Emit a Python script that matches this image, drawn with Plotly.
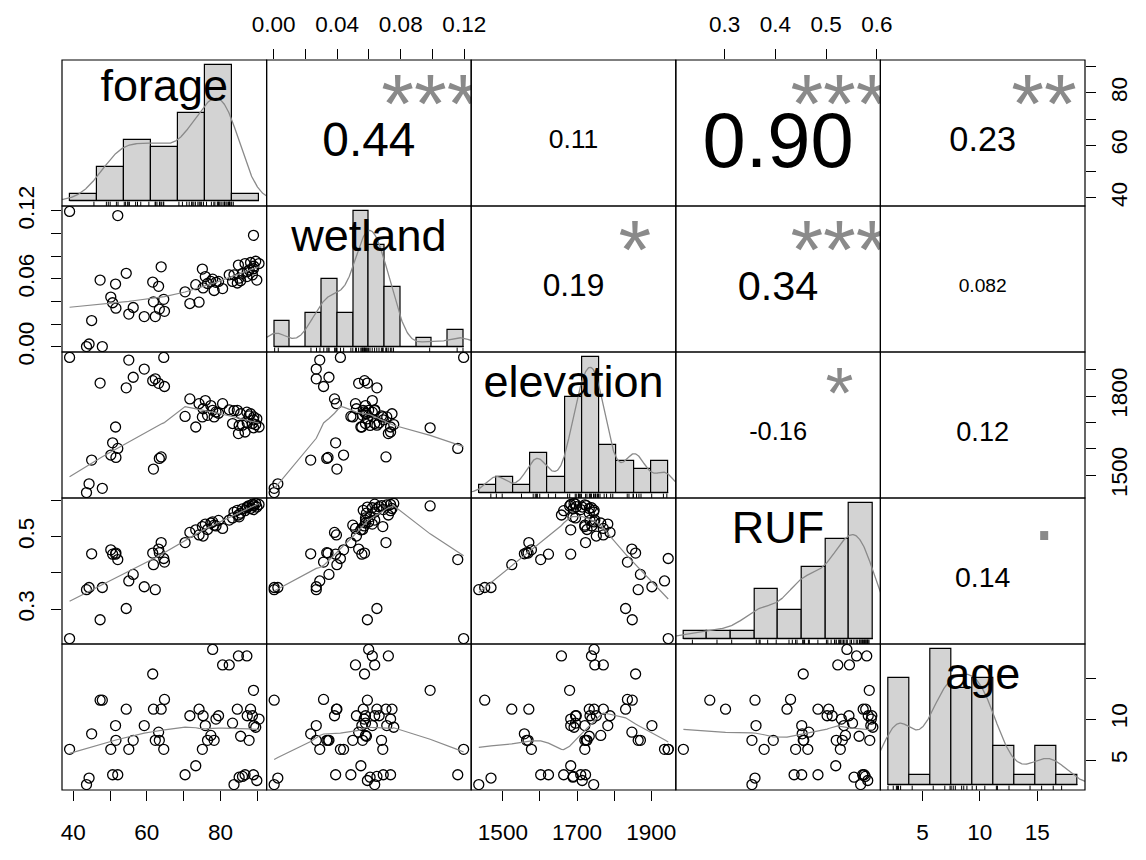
import numpy as np
import plotly.graph_objects as go

# ---------------------------------------------------------------------------
# Data: one entry per site
# ---------------------------------------------------------------------------
var_names = ["forage", "wetland", "elevation", "RUF", "age"]

forage = [39.0, 43.6, 44.3, 45.0, 47.3, 47.9, 50.2, 50.7, 51.5, 51.6, 52.1,
          54.4, 55.1, 56.3, 59.3, 61.6, 61.8, 62.3, 63.2, 63.4, 63.9, 64.6,
          64.8, 70.4, 71.7, 73.3, 74.2, 75.1, 75.3, 75.9, 76.5, 77.4, 77.9,
          78.3, 78.8, 79.5, 80.6, 82.4, 83.3, 83.7, 84.6, 84.9, 85.1, 85.5,
          86.0, 86.7, 87.2, 87.3, 87.8, 88.2, 88.7, 89.0, 89.0, 89.1, 89.6,
          89.9, 90.5]

wetland = [0.1196, 0.0003, 0.0026, 0.0233, 0.0590, 0.0003, 0.0440, 0.0390,
           0.0555, 0.0342, 0.1159, 0.0650, 0.0290, 0.0348, 0.0268, 0.0572,
           0.0398, 0.0268, 0.0535, 0.0334, 0.0707, 0.0420, 0.0314, 0.0486,
           0.0383, 0.0549, 0.0395, 0.0687, 0.0521, 0.0621, 0.0560, 0.0578,
           0.0598, 0.0498, 0.0570, 0.0578, 0.0515, 0.0636, 0.0578, 0.0636,
           0.0564, 0.0722, 0.0607, 0.0584, 0.0650, 0.0736, 0.0621, 0.0664,
           0.0679, 0.0745, 0.0636, 0.0985, 0.0690, 0.0712, 0.0756, 0.0590,
           0.0736]

elevation = [1946, 1435, 1468, 1558, 1849, 1451, 1577, 1623, 1683, 1568, 1602,
             1831, 1936, 1871, 1902, 1858, 1524, 1865, 1848, 1564, 1570, 1946,
             1836, 1723, 1789, 1683, 1771, 1721, 1752, 1783, 1727, 1764, 1746,
             1721, 1740, 1735, 1771, 1748, 1696, 1745, 1746, 1658, 1689, 1733,
             1690, 1664, 1739, 1698, 1725, 1733, 1696, 1680, 1710, 1721, 1692,
             1714, 1683]

ruf = [0.219, 0.354, 0.360, 0.453, 0.271, 0.360, 0.464, 0.452, 0.452, 0.455,
       0.437, 0.302, 0.378, 0.396, 0.362, 0.455, 0.423, 0.354, 0.466, 0.456,
       0.484, 0.440, 0.430, 0.484, 0.512, 0.519, 0.505, 0.528, 0.502, 0.535,
       0.520, 0.538, 0.541, 0.532, 0.530, 0.545, 0.523, 0.546, 0.552, 0.568,
       0.573, 0.560, 0.555, 0.565, 0.577, 0.572, 0.580, 0.583, 0.586, 0.578,
       0.590, 0.585, 0.575, 0.588, 0.592, 0.582, 0.589]

age = [6.3, 2.0, 2.8, 8.2, 12.3, 12.3, 6.3, 3.2, 9.2, 7.4, 3.2, 11.2, 6.3, 7.4,
       9.2, 15.5, 11.2, 7.4, 8.4, 7.4, 11.2, 6.3, 12.4, 3.2, 10.4, 4.3, 11.2,
       6.3, 10.4, 9.2, 7.4, 8.0, 18.5, 7.4, 10.0, 10.4, 16.6, 16.6, 9.5, 2.0,
       11.2, 17.7, 2.9, 7.9, 3.0, 3.2, 17.7, 10.4, 7.4, 11.2, 10.4, 13.5, 3.2,
       9.2, 9.0, 2.5, 10.0]

# histogram break points for the diagonal panels
forage_breaks = [30, 40, 50, 60, 70, 80, 90, 100]
wetland_breaks = [0.00, 0.01, 0.02, 0.03, 0.04, 0.05, 0.06, 0.07, 0.08, 0.09,
                  0.10, 0.11, 0.12]
elevation_breaks = [1400, 1450, 1500, 1550, 1600, 1650, 1700, 1750, 1800,
                    1850, 1900, 1950]
ruf_breaks = [0.20, 0.25, 0.30, 0.35, 0.40, 0.45, 0.50, 0.55, 0.60]
age_breaks = [2, 4, 6, 8, 10, 12, 14, 16, 18, 20]

# correlation panels (row variable, column variable)
cor_pairs = [(0, 1), (0, 2), (0, 3), (0, 4), (1, 2), (1, 3), (1, 4),
             (2, 3), (2, 4), (3, 4)]
cor_values = [0.44, 0.11, 0.90, 0.23, 0.19, 0.34, 0.082, -0.16, 0.12, 0.14]
cor_labels = ["0.44", "0.11", "0.90", "0.23", "0.19", "0.34", "0.082",
              "-0.16", "0.12", "0.14"]
cor_stars = ["***", "", "***", "**", "*", "***", "", "*", "", "."]

# axis ticks: values, labels on horizontal axes, labels on vertical axes
tick_vals = {
    0: [40, 50, 60, 70, 80, 90],
    1: [0.00, 0.02, 0.04, 0.06, 0.08, 0.10, 0.12],
    2: [1500, 1600, 1700, 1800, 1900],
    3: [0.3, 0.4, 0.5, 0.6],
    4: [5, 10, 15],
}
tick_text_h = {
    0: ["40", "", "60", "", "80", ""],
    1: ["0.00", "", "0.04", "", "0.08", "", "0.12"],
    2: ["1500", "", "1700", "", "1900"],
    3: ["0.3", "0.4", "0.5", "0.6"],
    4: ["5", "10", "15"],
}
tick_text_v = {
    0: ["40", "", "60", "", "80", ""],
    1: ["0.00", "", "", "0.06", "", "", "0.12"],
    2: ["1500", "", "", "1800", ""],
    3: ["0.3", "", "0.5", ""],
    4: ["5", "10", ""],
}

# ---------------------------------------------------------------------------
# Helpers
# ---------------------------------------------------------------------------
FONT = "Liberation Sans, Arial, Helvetica, sans-serif"
GREY = "#8a8a8a"
HIST_FILL = "#d3d3d3"
W, H = 1146, 860
ML, MR, MT, MB = 62, 61, 60, 70
NV = len(var_names)
PW = (W - ML - MR) / NV
PH = (H - MT - MB) / NV
AXIS_FONT = 22.5

data = [np.asarray(v, float) for v in (forage, wetland, elevation, ruf, age)]
breaks = [np.asarray(b, float) for b in (forage_breaks, wetland_breaks,
                                         elevation_breaks, ruf_breaks,
                                         age_breaks)]


def padded(lo, hi):
    d = hi - lo
    return lo - 0.04 * d, hi + 0.04 * d


def data_range(v):
    return padded(v.min(), v.max())


def r_hist(v, b):
    idx = np.searchsorted(b, v, side="left") - 1
    idx = np.clip(idx, 0, len(b) - 2)
    counts = np.bincount(idx, minlength=len(b) - 1)
    return counts / (len(v) * np.diff(b))


def kde(v):
    n = len(v)
    sd = v.std(ddof=1)
    q75, q25 = np.percentile(v, [75, 25])
    lo = min(sd, (q75 - q25) / 1.34)
    bw = 0.9 * lo * n ** -0.2
    gx = np.linspace(v.min() - 3 * bw, v.max() + 3 * bw, 512)
    z = (gx[:, None] - v[None, :]) / bw
    gy = np.exp(-0.5 * z ** 2).sum(axis=1) / (n * bw * np.sqrt(2 * np.pi))
    return gx, gy


def lowest(x, y, n, xs, nleft, nright, w, userw, rw):
    rng = x[-1] - x[0]
    h = max(xs - x[nleft], x[nright] - xs)
    h9, h1 = 0.999 * h, 0.001 * h
    a = 0.0
    j = nleft
    while j < n:
        w[j] = 0.0
        r = abs(x[j] - xs)
        if r <= h9:
            w[j] = 1.0 if r <= h1 else (1.0 - (r / h) ** 3) ** 3
            if userw:
                w[j] *= rw[j]
            a += w[j]
        elif x[j] > xs:
            break
        j += 1
    nrt = j - 1
    if a <= 0.0:
        return 0.0, False
    sl = slice(nleft, nrt + 1)
    w[sl] /= a
    if h > 0.0:
        a = np.sum(w[sl] * x[sl])
        b = xs - a
        c = np.sum(w[sl] * (x[sl] - a) ** 2)
        if np.sqrt(c) > 0.001 * rng:
            b /= c
            w[sl] *= b * (x[sl] - a) + 1.0
    return float(np.sum(w[sl] * y[sl])), True


def lowess(xv, yv, f=2 / 3, nsteps=3):
    o = np.argsort(xv, kind="stable")
    x, y = xv[o], yv[o]
    n = len(x)
    delta = 0.01 * (x[-1] - x[0])
    ys = np.zeros(n)
    rw = np.ones(n)
    ns = max(2, min(n, int(f * n + 1e-7)))
    it = 1
    while it <= nsteps + 1:
        nleft, nright, last, i = 0, ns - 1, -1, 0
        while True:
            if nright < n - 1:
                if x[i] - x[nleft] > x[nright + 1] - x[i]:
                    nleft += 1
                    nright += 1
                    continue
            w = np.zeros(n)
            val, ok = lowest(x, y, n, x[i], nleft, nright, w, it > 1, rw)
            ys[i] = val if ok else y[i]
            if last < i - 1:
                denom = x[i] - x[last]
                for j in range(last + 1, i):
                    alpha = (x[j] - x[last]) / denom
                    ys[j] = alpha * ys[i] + (1 - alpha) * ys[last]
            last = i
            cut = x[last] + delta
            i = last + 1
            while i < n:
                if x[i] > cut:
                    break
                if x[i] == x[last]:
                    ys[i] = ys[last]
                    last = i
                i += 1
            i = max(last + 1, i - 1)
            if last >= n - 1:
                break
        res = y - ys
        sc = np.mean(np.abs(res))
        if it > nsteps:
            break
        ar = np.sort(np.abs(res))
        m1 = n // 2
        if n % 2 == 0:
            cmad = 3.0 * (ar[m1] + ar[n - m1 - 1])
        else:
            cmad = 6.0 * ar[m1]
        if cmad < 1e-7 * sc:
            break
        r = np.abs(res)
        rw = np.where(r <= 0.001 * cmad, 1.0,
                      np.where(r <= 0.999 * cmad, (1 - (r / cmad) ** 2) ** 2, 0.0))
        it += 1
    return x, ys


EM = {c: 0.556 for c in "0123456789"}
EM.update({".": 0.278, "-": 0.333, "*": 0.389})


def em_width(s):
    return sum(EM.get(c, 0.556) for c in s)


def ink_center(s):
    # vertical offset (em above the baseline) used to centre each string
    if s and set(s) <= {"*"}:
        return 0.516
    if s == ".":
        return 0.147
    return {"forage": 0.26, "age": 0.16}.get(s, 0.358)


# extra downward nudge (px) applied to the centred texts
TEXT_DROP = {"age": 13}
NUMBER_DROP = 6
LABEL_DROP = 5


def ax_names(i, j):
    k = i * NV + j + 1
    return ("x" if k == 1 else f"x{k}"), ("y" if k == 1 else f"y{k}"), k


# ---------------------------------------------------------------------------
# Figure
# ---------------------------------------------------------------------------
fig = go.Figure()
layout = dict(width=W, height=H, margin=dict(l=ML, r=MR, t=MT, b=MB, pad=0),
              paper_bgcolor="white", plot_bgcolor="white", showlegend=False,
              font=dict(family=FONT, color="black"), shapes=[])

ranges = [data_range(v) for v in data]


def place_text(xr, yr, fx, fy, s, size, color, xa, ya, drop=0.0):
    x = xr[0] + fx * (xr[1] - xr[0])
    yt = yr[0] + fy * (yr[1] - yr[0])
    shift_px = (ink_center(s) - 0.25) * size + drop
    y = yt - shift_px * (yr[1] - yr[0]) / PH
    fig.add_trace(go.Scatter(x=[x], y=[y], mode="text", text=[s],
                             textposition="middle center",
                             textfont=dict(size=size, color=color, family=FONT),
                             cliponaxis=True, hoverinfo="skip",
                             xaxis=xa, yaxis=ya))


for i in range(NV):
    for j in range(NV):
        xa, ya, k = ax_names(i, j)
        if i == j:
            b = breaks[i]
            dens = r_hist(data[i], b)
            xr = padded(b[0], b[-1])
            yr = padded(0.0, dens.max())
        else:
            xr = ranges[j]
            yr = ranges[i]

        xaxis = dict(domain=[j / NV, (j + 1) / NV], anchor=ya, range=list(xr),
                     showgrid=False, zeroline=False, showline=False,
                     ticks="", showticklabels=False, fixedrange=True)
        yaxis = dict(domain=[1 - (i + 1) / NV, 1 - i / NV], anchor=xa,
                     range=list(yr), showgrid=False, zeroline=False,
                     showline=False, ticks="", showticklabels=False,
                     fixedrange=True)

        def tick_setup(axis, var, texts, side, rng_panel, standoff, angle):
            vals = np.asarray(tick_vals[var], float)
            if i == j:
                lo, hi = ranges[var]
                vals = rng_panel[0] + (vals - lo) / (hi - lo) * (rng_panel[1] - rng_panel[0])
            axis.update(ticks="outside", ticklen=10, tickwidth=1,
                        tickcolor="black", tickmode="array",
                        tickvals=list(vals), ticktext=texts[var],
                        showticklabels=True, side=side,
                        tickfont=dict(size=AXIS_FONT, family=FONT, color="black"),
                        ticklabelstandoff=standoff, tickangle=angle)

        if i == 0 and j % 2 == 1:
            tick_setup(xaxis, j, tick_text_h, "top", xr, 8, 0)
        if i == NV - 1 and j % 2 == 0:
            tick_setup(xaxis, j, tick_text_h, "bottom", xr, 12, 0)
        if j == 0 and i % 2 == 1:
            tick_setup(yaxis, i, tick_text_v, "left", yr, 8, -90)
        if j == NV - 1 and i % 2 == 0:
            tick_setup(yaxis, i, tick_text_v, "right", yr, 4, -90)

        layout["xaxis" if k == 1 else f"xaxis{k}"] = xaxis
        layout["yaxis" if k == 1 else f"yaxis{k}"] = yaxis

        if i == j:
            v = data[i]
            b = breaks[i]
            dens = r_hist(v, b)
            fig.add_trace(go.Bar(x=list((b[:-1] + b[1:]) / 2), y=list(dens),
                                 width=list(np.diff(b)),
                                 marker=dict(color=HIST_FILL,
                                             line=dict(color="black", width=1.2)),
                                 hoverinfo="skip", xaxis=xa, yaxis=ya))
            fig.add_trace(go.Scatter(x=[b[0], b[-1]], y=[0, 0], mode="lines",
                                     line=dict(color="black", width=1.2),
                                     hoverinfo="skip", xaxis=xa, yaxis=ya))
            gx, gy = kde(v)
            fig.add_trace(go.Scatter(x=gx, y=gy, mode="lines",
                                     line=dict(color=GREY, width=1.3),
                                     hoverinfo="skip", xaxis=xa, yaxis=ya))
            rug_top = yr[0] + 0.03 * (yr[1] - yr[0])
            rx, ry = [], []
            for val in np.unique(v):
                rx += [val, val, None]
                ry += [yr[0], rug_top, None]
            fig.add_trace(go.Scatter(x=rx, y=ry, mode="lines",
                                     line=dict(color="black", width=1),
                                     hoverinfo="skip", xaxis=xa, yaxis=ya))
            place_text(xr, yr, 0.5, 0.5 + 1 / 3, var_names[i], 45, "black",
                       xa, ya, TEXT_DROP.get(var_names[i], LABEL_DROP))
        elif i > j:
            fig.add_trace(go.Scatter(x=data[j], y=data[i], mode="markers",
                                     marker=dict(symbol="circle-open", size=10,
                                                 color="black",
                                                 line=dict(width=1.3, color="black")),
                                     hoverinfo="skip", xaxis=xa, yaxis=ya))
            lx, ly = lowess(data[j], data[i])
            fig.add_trace(go.Scatter(x=lx, y=ly, mode="lines",
                                     line=dict(color=GREY, width=1.2),
                                     hoverinfo="skip", xaxis=xa, yaxis=ya))
        else:
            idx = cor_pairs.index((i, j))
            label = cor_labels[idx]
            base = 0.8 * PW / em_width(label)
            size = base * (abs(cor_values[idx]) + 0.3) / 1.3
            place_text(xr, yr, 0.5, 0.5, label, size, "black", xa, ya,
                       NUMBER_DROP)
            if cor_stars[idx]:
                place_text(xr, yr, 0.8, 0.8, cor_stars[idx], base, GREY, xa, ya)

        layout["shapes"].append(dict(type="rect", xref="paper", yref="paper",
                                     x0=j / NV, x1=(j + 1) / NV,
                                     y0=1 - (i + 1) / NV, y1=1 - i / NV,
                                     line=dict(color="black", width=1.2),
                                     fillcolor="rgba(0,0,0,0)", layer="above"))

fig.update_layout(**layout)
fig.update_layout(bargap=0, barmode="overlay")
fig.write_html("out.html")
